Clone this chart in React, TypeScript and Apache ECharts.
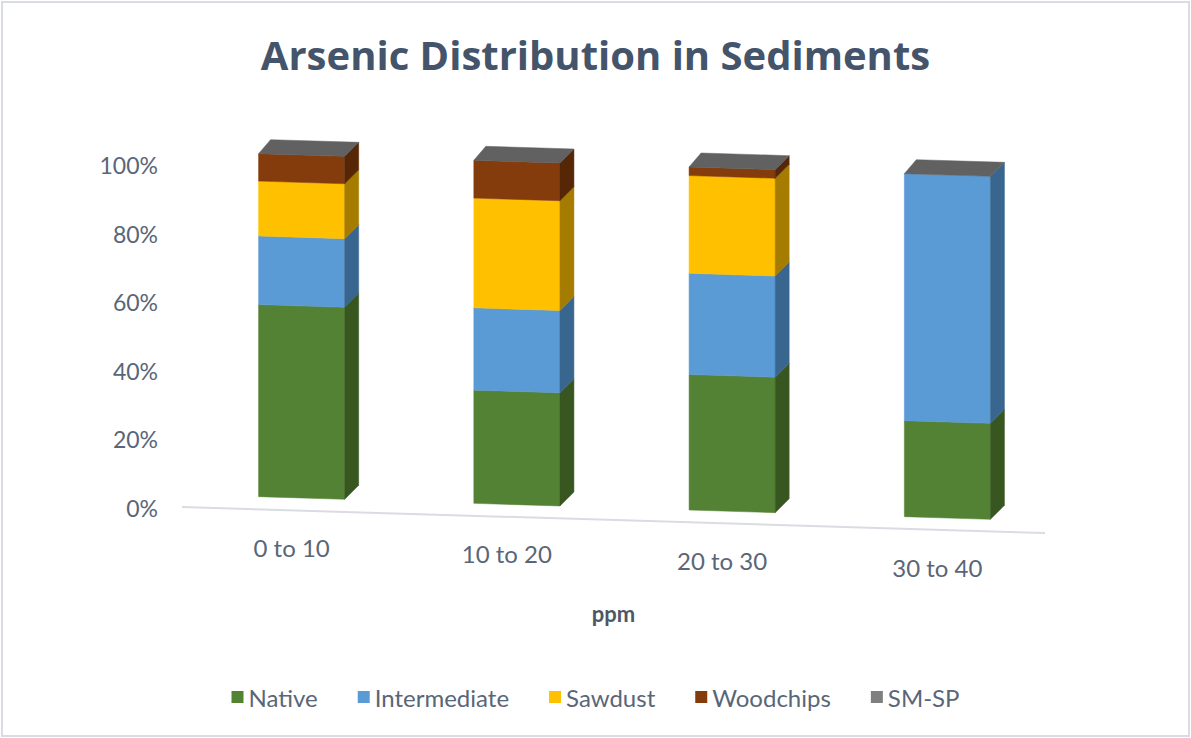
import React, { useEffect, useRef } from "react";
import * as echarts from "echarts";

const categories = ["0 to 10", "10 to 20", "20 to 30", "30 to 40"];
const yTicks = [0, 20, 40, 60, 80, 100];
const seriesNames = ["Native", "Intermediate", "Sawdust", "Woodchips", "SM-SP"];
const native = [56, 33, 39.5, 28];
const intermediate = [20, 24, 29.5, 72];
const sawdust = [16, 32, 28.5, 0];
const woodchips = [8, 11, 2.5, 0];
const smsp = [0, 0, 0, 0];
const xAxisTitle = "ppm";
const chartTitle = "Arsenic Distribution in Sediments";

const allValues = [native, intermediate, sawdust, woodchips, smsp];
const frontColors = ["#548235", "#5B9BD5", "#FFC000", "#843C0C", "#7F7F7F"];
const sideColors = ["#38561f", "#39668f", "#a67c00", "#562707", "#555555"];
const topColor = "#616161";

const OFF = -10;
const SLOPE = 0.031;
const DXR = 14;
const DXL = 12;
const DY = 14;
const FONT = "Lato, 'Open Sans', sans-serif";
const TEXT = "#596678";

export default function App() {
  const ref = useRef<HTMLDivElement>(null);
  useEffect(() => {
    if (!ref.current) return;
    const chart = echarts.init(ref.current, undefined, { renderer: "svg" });
    const totals = categories.map((_, i) => allValues.reduce((s, arr) => s + arr[i], 0));
    const cum = categories.map(() => 0);
    const barSeries = allValues.map((vals, s) => {
      const data = vals.map((v, i) => {
        const pct = (v / totals[i]) * 100;
        const start = cum[i];
        cum[i] += pct;
        return [i, start, cum[i]];
      });
      const isTop = s === allValues.length - 1;
      return {
        name: seriesNames[s],
        type: "custom",
        clip: false,
        itemStyle: { color: frontColors[s] },
        data,
        renderItem: (params: any, api: any) => {
          const i = api.value(0);
          const v0 = api.value(1);
          const v1 = api.value(2);
          const p0 = api.coord([i, v0]);
          const p1 = api.coord([i, v1]);
          const x0 = api.coord([0, 0])[0];
          const band = api.size([1, 0])[0];
          const bw = band * 0.4;
          const xl = p0[0] - bw / 2;
          const xr = p0[0] + bw / 2;
          const Y = (x: number, y: number) => y + OFF + (x - x0) * SLOPE;
          const children: any[] = [];
          if (v1 - v0 > 0.001) {
            children.push({
              type: "polygon",
              shape: {
                points: [
                  [xl, Y(xl, p0[1])],
                  [xr, Y(xr, p0[1])],
                  [xr, Y(xr, p1[1])],
                  [xl, Y(xl, p1[1])],
                ],
              },
              style: { fill: frontColors[s], stroke: frontColors[s], lineWidth: 0.5 },
            });
            children.push({
              type: "polygon",
              shape: {
                points: [
                  [xr, Y(xr, p0[1])],
                  [xr + DXR, Y(xr, p0[1]) - DY],
                  [xr + DXR, Y(xr, p1[1]) - DY],
                  [xr, Y(xr, p1[1])],
                ],
              },
              style: { fill: sideColors[s], stroke: sideColors[s], lineWidth: 0.5 },
            });
          }
          if (isTop) {
            children.push({
              type: "polygon",
              shape: {
                points: [
                  [xl, Y(xl, p1[1])],
                  [xr, Y(xr, p1[1])],
                  [xr + DXR, Y(xr, p1[1]) - DY],
                  [xl + DXL, Y(xl, p1[1]) - DY],
                ],
              },
              style: { fill: topColor, stroke: topColor, lineWidth: 0.5 },
            });
          }
          return { type: "group", children };
        },
      };
    });

    const labelSeries = {
      name: "__labels",
      type: "custom",
      clip: false,
      silent: true,
      data: categories.map((_, i) => [i, 0]),
      renderItem: (params: any, api: any) => {
        const i = api.value(0);
        const c = api.coord([i, 0]);
        const x0 = api.coord([0, 0])[0];
        const x = c[0] - 10;
        const y = c[1] + 39 + (c[0] - x0) * SLOPE;
        return {
          type: "text",
          x,
          y,
          style: {
            text: categories[i],
            fill: TEXT,
            fontSize: 24,
            fontFamily: FONT,
            align: "center",
            verticalAlign: "middle",
          },
        };
      },
    };

    chart.setOption({
      animation: false,
      backgroundColor: "#ffffff",
      title: {
        text: chartTitle,
        left: "center",
        top: 34,
        padding: 0,
        textStyle: {
          fontSize: 40,
          fontWeight: "bold",
          color: "#44546A",
          fontFamily: "'Open Sans', Lato, sans-serif",
        },
      },
      legend: {
        data: seriesNames,
        top: 680,
        left: "center",
        icon: "rect",
        itemWidth: 12,
        itemHeight: 12,
        itemGap: 40,
        textStyle: { fontSize: 24, color: TEXT, fontFamily: FONT },
      },
      grid: { left: 194, right: 136, top: 165, bottom: 230 },
      xAxis: {
        type: "category",
        data: categories,
        axisLine: { show: false },
        axisTick: { show: false },
        axisLabel: { show: false },
        name: xAxisTitle,
        nameLocation: "middle",
        nameGap: 94,
        nameTextStyle: {
          fontSize: 22,
          fontWeight: "bold",
          color: "#4d5766",
          fontFamily: FONT,
          padding: [0, 22, 0, 0],
        },
      },
      yAxis: {
        type: "value",
        min: yTicks[0],
        max: yTicks[yTicks.length - 1],
        interval: yTicks[1] - yTicks[0],
        axisLine: { show: false },
        axisTick: { show: false },
        splitLine: { show: false },
        axisLabel: {
          formatter: "{value}%",
          fontSize: 23,
          color: TEXT,
          fontFamily: FONT,
          margin: 36,
        },
      },
      graphic: [
        {
          type: "rect",
          shape: { x: 2, y: 2, width: 1187, height: 734 },
          style: { fill: "none", stroke: "#d9dce2", lineWidth: 2 },
          silent: true,
        },
        {
          type: "line",
          shape: { x1: 182, y1: 507, x2: 1045, y2: 533 },
          style: { stroke: "#d9dce3", lineWidth: 2 },
          silent: true,
          z: -1,
        },
      ],
      series: [...barSeries, labelSeries],
    });
    return () => chart.dispose();
  }, []);
  return (
    <div
      ref={ref}
      style={{ position: "absolute", left: 0, top: 0, width: 1191, height: 738, background: "#fff" }}
    />
  );
}
